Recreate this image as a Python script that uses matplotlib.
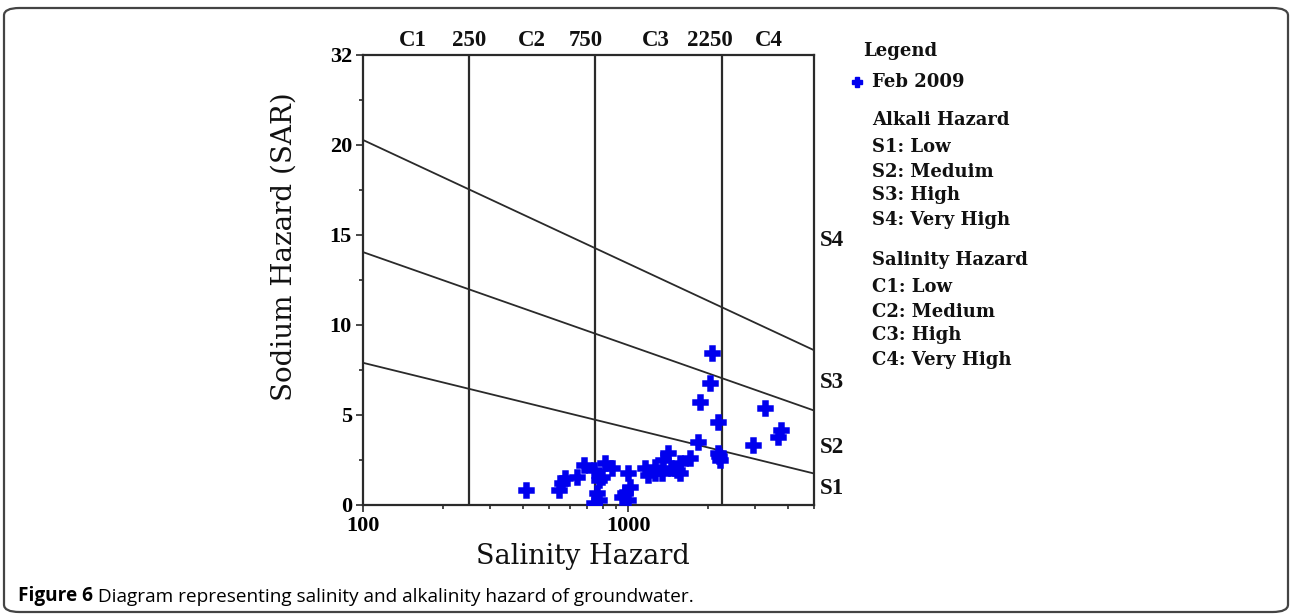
"""
Wilcox / USSL salinity - alkali hazard diagram
"""

import numpy as np
import matplotlib.pyplot as plt
from matplotlib.patches import FancyBboxPatch
from matplotlib.transforms import blended_transform_factory

# sample points (EC, SAR)
ec = [410, 547, 563, 579, 640, 678, 739, 772, 794, 761, 772, 739, 818, 866,
      1000, 1014, 972, 1000, 942, 1155, 1259, 1259, 1352, 1412, 1452, 1562,
      1562, 1333, 1702, 1828, 1857, 2023, 2065, 2173, 2173, 2205, 2940, 3266,
      3646, 3750, 1189, 1520, 2190]
sar = [0.83, 0.83, 1.21, 1.48, 1.57, 2.22, 1.94, 1.39, 1.57, 0.65, 0.28, 0.09,
       2.32, 2.04, 1.76, 1.02, 0.65, 0.28, 0.44, 2.04, 2.13, 1.76, 2.50, 2.87,
       2.04, 2.32, 1.76, 1.76, 2.59, 3.52, 5.74, 6.76, 8.43, 4.63, 2.87, 2.50,
       3.33, 5.37, 3.79, 4.17, 1.67, 1.95, 2.70]

# class boundaries
c_bounds = [250, 750, 2250]
xlim = [100, 5000]
s_left = [7.9, 14.05, 20.67]
s_right = [1.75, 5.25, 8.6]

yticks = [0, 5, 10, 15, 20, 32]
yminor = [2.5, 7.5, 12.5, 17.5, 26]

top_labels = [("C1", 154), ("250", 250), ("C2", 433), ("750", 690),
              ("C3", 1273), ("2250", 2028), ("C4", 3375)]
s_labels = [("S1", 0.94), ("S2", 3.2), ("S3", 6.8), ("S4", 14.7)]

legend_lines = ["Alkali Hazard", "S1: Low", "S2: Meduim", "S3: High", "S4: Very High",
                "Salinity Hazard", "C1: Low", "C2: Medium", "C3: High", "C4: Very High"]
legend_y = [120, 147, 172, 195, 220, 260, 287, 312, 335, 360]

tfont = "Liberation Serif"
lfont = "DejaVu Serif"
dark = "#2a2a2a"
blue = "#0000ee"


# y axis is broken above 20: 20..32 squeezed into one 5-unit step
def fwd(y):
    y = np.asarray(y, dtype=float)
    return np.where(y <= 20, y, 20 + (y - 20) * 5 / 12)


def inv(u):
    u = np.asarray(u, dtype=float)
    return np.where(u <= 20, u, 20 + (u - 20) * 12 / 5)


W, H = 1292, 616
fig = plt.figure(figsize=(W / 100, H / 100), dpi=100)

# outer rounded frame
frame = FancyBboxPatch((4 / W, 4 / H), 1284 / W, 604 / H,
                       boxstyle="round,pad=0,rounding_size=0.012",
                       transform=fig.transFigure, fill=False,
                       edgecolor="#444444", linewidth=1.6)
fig.patches.append(frame)

ax = fig.add_axes([363 / W, 1 - 505 / H, (814 - 363) / W, (505 - 55) / H])
ax.set_xscale("log")
ax.set_yscale("function", functions=(fwd, inv))
ax.set_xlim(xlim)
ax.set_ylim(0, 32)

for c in c_bounds:
    ax.plot([c, c], [0, 32], color=dark, linewidth=1.6)
for y0, y1 in zip(s_left, s_right):
    ax.plot(xlim, [y0, y1], color=dark, linewidth=1.3)

ax.plot(ec, sar, linestyle="none", marker="P", markersize=9.5,
        color=blue, markeredgecolor=blue, markeredgewidth=1.8, zorder=5)

for sp in ax.spines.values():
    sp.set_linewidth(1.6)
    sp.set_color(dark)

ax.set_xticks([100, 1000])
ax.set_xticklabels(["100", "1000"])
ax.set_yticks(yticks)
ax.set_yticklabels([str(v) for v in yticks])
ax.set_yticks(yminor, minor=True)
ax.tick_params(which="both", direction="out", color=dark, width=1.2)
ax.tick_params(which="major", length=5, labelsize=16, pad=3)
ax.tick_params(which="minor", length=3)
for lab in ax.get_xticklabels() + ax.get_yticklabels():
    lab.set_fontfamily(tfont)
    lab.set_fontweight("bold")

trans_top = blended_transform_factory(ax.transData, ax.transAxes)
for txt, xv in top_labels:
    ax.text(xv, 1.033, txt, transform=trans_top, ha="center", va="center",
            fontsize=16.5, fontweight="bold", family=tfont, color="#111111")

trans_right = blended_transform_factory(ax.transAxes, ax.transData)
for txt, yv in s_labels:
    ax.text(1.013, yv, txt, transform=trans_right, ha="left", va="center",
            fontsize=16.5, fontweight="bold", family=tfont, color="#111111")

# axis titles
fig.text(284 / W, 1 - 247 / H, "Sodium Hazard (SAR)", rotation=90,
         ha="center", va="center", fontsize=20, family=lfont, color="#111111")
fig.text(583 / W, 1 - 556 / H, "Salinity Hazard", ha="center", va="center",
         fontsize=19.5, family=lfont, color="#111111")

# legend block
fig.text(863 / W, 1 - 51 / H, "Legend", ha="left", va="center",
         fontsize=13, fontweight="bold", family=lfont, color="#111111")
fig.lines.append(plt.Line2D([857 / W], [1 - 82 / H], marker="P", markersize=6.5,
                            color=blue, markeredgecolor=blue, markeredgewidth=1,
                            transform=fig.transFigure))
fig.text(872 / W, 1 - 82 / H, "Feb 2009", ha="left", va="center",
         fontsize=13, fontweight="bold", family=lfont, color="#111111")
for txt, yp in zip(legend_lines, legend_y):
    fig.text(872 / W, 1 - yp / H, txt, ha="left", va="center",
             fontsize=13, fontweight="bold", family=lfont, color="#111111")

# caption
t1 = fig.text(18 / W, 1 - 596 / H, "Figure 6", ha="left", va="center",
              fontsize=13.7, fontweight="bold", family="Open Sans")
ax.annotate(" Diagram representing salinity and alkalinity hazard of groundwater.",
            xy=(1, 0), xycoords=t1, ha="left", va="bottom",
            fontsize=13.7, family="Open Sans", annotation_clip=False)

fig.savefig("out.png", dpi=100)
